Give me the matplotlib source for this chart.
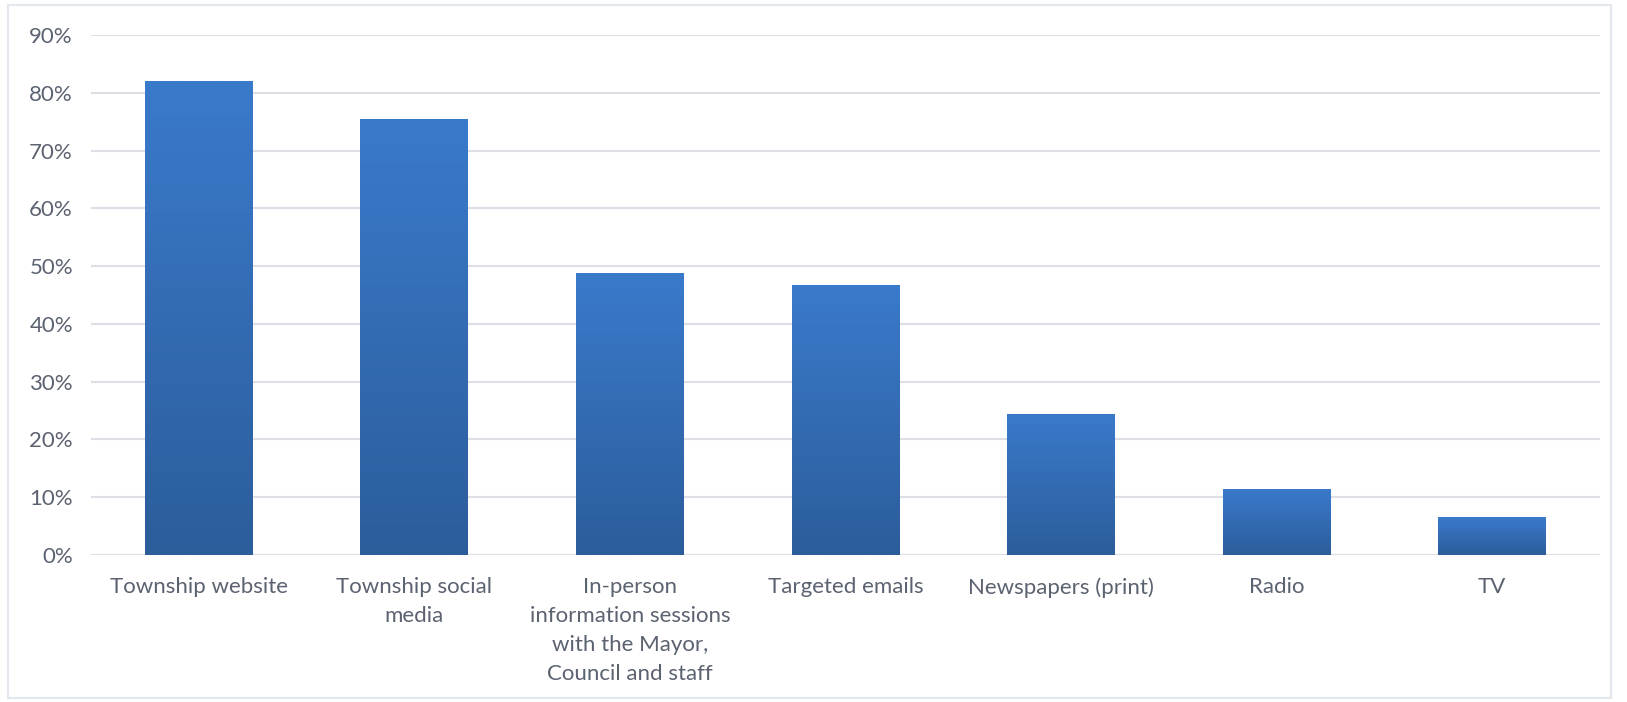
import numpy as np
import matplotlib
matplotlib.use("Agg")
import matplotlib.pyplot as plt
from matplotlib.colors import LinearSegmentedColormap
from matplotlib.patches import Rectangle

categories = [
    "Township website",
    "Township social\nmedia",
    "In-person\ninformation sessions\nwith the Mayor,\nCouncil and staff",
    "Targeted emails",
    "Newspapers (print)",
    "Radio",
    "TV",
]
values = [82.0, 75.5, 48.8, 46.7, 24.4, 11.5, 6.5]
yticks = [0, 10, 20, 30, 40, 50, 60, 70, 80, 90]
ytick_labels = [f"{t}%" for t in yticks]

plt.rcParams["font.family"] = ["Lato", "DejaVu Sans"]

W, H = 1627, 702
fig = plt.figure(figsize=(W / 100, H / 100), dpi=100)
fig.patch.set_facecolor("white")

left, right, bottom, top = 91 / W, 1600 / W, 1 - 555 / H, 1 - 35 / H
ax = fig.add_axes([left, bottom, right - left, top - bottom])

x = np.arange(len(categories))
bars = ax.bar(x, values, width=0.5, color="none", edgecolor="none", zorder=3)

# vertical gradient fill, lighter at the top of each bar
cmap = LinearSegmentedColormap.from_list("bar", ["#2c5d9b", "#3a7acb"])
grad = np.linspace(0, 1, 256).reshape(-1, 1)
for b in bars:
    x0, w, h = b.get_x(), b.get_width(), b.get_height()
    im = ax.imshow(grad, cmap=cmap, origin="lower", aspect="auto",
                   extent=[x0, x0 + w, 0, h], zorder=3)
    im.set_clip_path(b)

ax.set_xlim(-0.5, len(categories) - 0.5)
ax.set_ylim(0, 90)
ax.set_yticks(yticks)
ax.set_yticklabels(ytick_labels)
ax.set_xticks(x)
ax.set_xticklabels(categories, linespacing=1.55)

ax.yaxis.grid(True, color="#dcdfe6", linewidth=1.5, zorder=0)
ax.set_axisbelow(True)
for s in ax.spines.values():
    s.set_visible(False)
ax.tick_params(axis="both", length=0, colors="#5b6270", labelsize=16)
ax.tick_params(axis="y", pad=13)
ax.tick_params(axis="x", pad=16)
for lbl in ax.get_xticklabels():
    lbl.set_verticalalignment("top")

# light frame around the chart area
fig.patches.append(Rectangle((8 / W, 4 / H), (1611 - 8) / W, (697 - 4) / H,
                             transform=fig.transFigure, fill=False,
                             edgecolor="#e3e7ee", linewidth=1.5))

fig.savefig("out.png", dpi=100, facecolor="white")
